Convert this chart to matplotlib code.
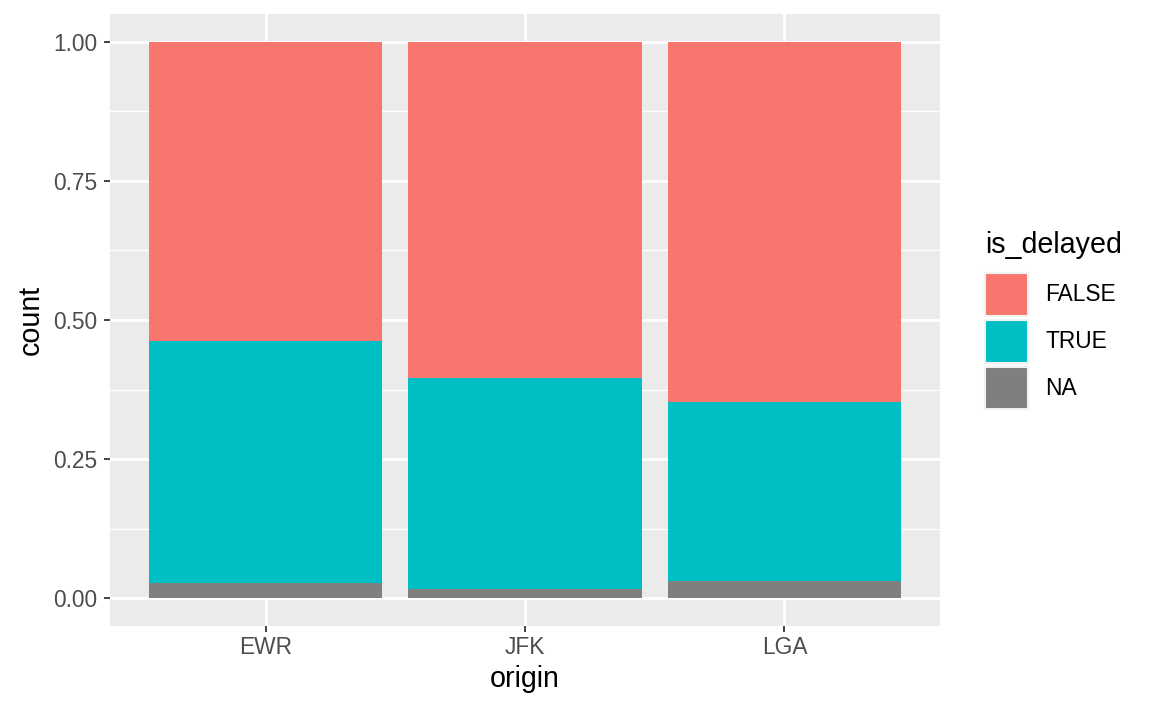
import matplotlib
matplotlib.use("Agg")
import matplotlib.pyplot as plt
from matplotlib.patches import Patch
import numpy as np

origins = ["EWR", "JFK", "LGA"]
groups = ["FALSE", "TRUE", "NA"]
na_prop = [0.027, 0.016, 0.031]
true_prop = [0.436, 0.379, 0.321]
false_prop = [1 - a - b for a, b in zip(na_prop, true_prop)]
yticks = [0.0, 0.25, 0.5, 0.75, 1.0]
ytick_labels = ["0.00", "0.25", "0.50", "0.75", "1.00"]
colors = {"FALSE": "#F8766D", "TRUE": "#00BFC4", "NA": "#7F7F7F"}

plt.rcParams['font.family'] = ['Liberation Sans', 'DejaVu Sans']

TICK_FS = 16.4
TITLE_FS = 20.6

fig = plt.figure(figsize=(11.52, 7.11), dpi=100)
ax = fig.add_axes([110/1152, (711-626)/711, (940-110)/1152, (626-14)/711])
ax.set_facecolor("#EBEBEB")

x = np.arange(len(origins))
ax.bar(x, na_prop, width=0.9, color=colors["NA"], zorder=3)
ax.bar(x, true_prop, width=0.9, bottom=na_prop, color=colors["TRUE"], zorder=3)
bottoms = [a + b for a, b in zip(na_prop, true_prop)]
ax.bar(x, false_prop, width=0.9, bottom=bottoms, color=colors["FALSE"], zorder=3)

ax.set_xlim(-0.6, 2.6)
ax.set_ylim(-0.05, 1.05)
ax.set_xticks(x)
ax.set_xticklabels(origins)
ax.set_yticks(yticks)
ax.set_yticklabels(ytick_labels)
ax.set_yticks([0.125, 0.375, 0.625, 0.875], minor=True)

ax.grid(True, which="major", color="white", linewidth=2.0, zorder=0)
ax.grid(True, which="minor", axis="y", color="white", linewidth=1.0, zorder=0)
ax.set_axisbelow(True)
for s in ax.spines.values():
    s.set_visible(False)
ax.tick_params(axis="both", which="major", length=4.3, width=1.3, color="#333333",
               labelsize=TICK_FS, labelcolor="#4D4D4D")
ax.tick_params(axis="y", which="major", pad=5)
ax.tick_params(axis="x", which="major", pad=3)
ax.tick_params(axis="both", which="minor", length=0)

ax.set_xlabel("origin", fontsize=TITLE_FS, color="black", labelpad=4)
ax.set_ylabel("count", fontsize=TITLE_FS, color="black", labelpad=6)

fig.text(985/1152, 1 - 253/711, "is_delayed", fontsize=TITLE_FS, color="black",
         ha="left", va="baseline")
handles = [Patch(facecolor=colors[g], edgecolor="#F2F2F2", linewidth=1.5) for g in groups]
leg = fig.legend(handles, groups, loc="upper left", bbox_to_anchor=(985/1152, 1 - 273/711),
                 frameon=False, fontsize=TICK_FS,
                 handlelength=1.89, handleheight=2.52, handletextpad=0.75,
                 labelspacing=0.17, borderpad=0, borderaxespad=0)

fig.savefig("out.png", dpi=100)
